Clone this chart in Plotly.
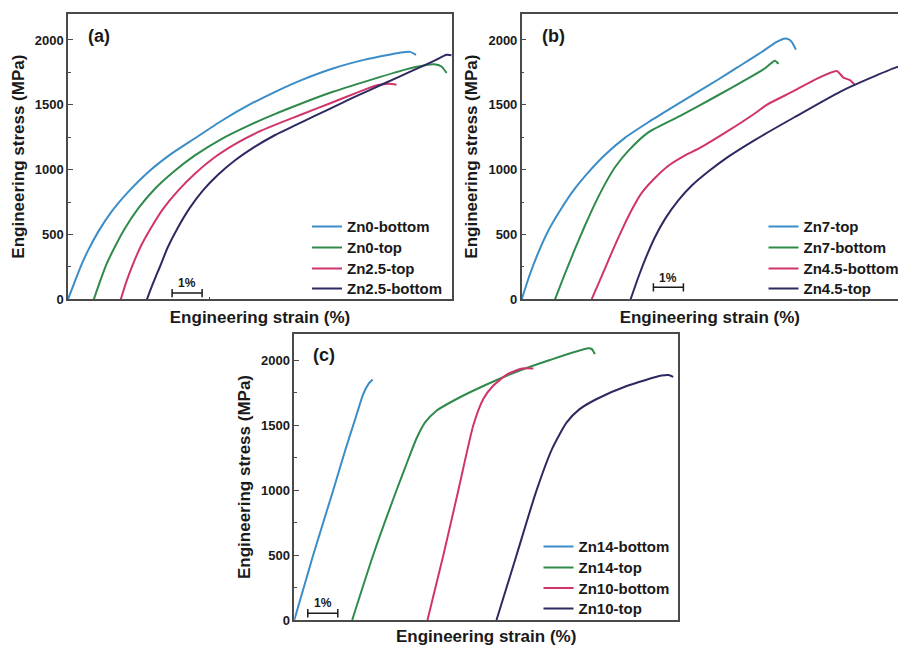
import plotly.graph_objects as go

# ---------------- data (strain %, stress MPa) ----------------
# Panel (a)
a_zn0_bottom_x = [0, 0.22, 0.44, 0.67, 1.0, 1.44, 2.0, 2.67, 3.44, 4.22, 5.11, 6.0, 6.89, 7.78, 8.83, 9.9, 10.7, 11.1, 11.4, 11.6]
a_zn0_bottom_y = [0, 133, 262, 377, 518, 672, 826, 980, 1121, 1240, 1375, 1495, 1598, 1690, 1780, 1848, 1886, 1903, 1908, 1885]
a_zn0_top_x = [0.86, 1.06, 1.28, 1.56, 1.89, 2.33, 2.89, 3.56, 4.22, 5.11, 6.0, 6.89, 7.78, 8.83, 10.2, 11.3, 11.9, 12.2, 12.45, 12.62]
a_zn0_top_y = [0, 133, 269, 403, 544, 697, 851, 992, 1108, 1236, 1338, 1428, 1510, 1600, 1700, 1775, 1805, 1812, 1795, 1745]
a_zn25_top_x = [1.76, 1.94, 2.17, 2.44, 2.78, 3.17, 3.67, 4.22, 4.89, 5.67, 6.44, 7.11, 7.78, 8.72, 9.7, 10.3, 10.7, 10.95]
a_zn25_top_y = [0, 133, 274, 415, 556, 697, 838, 967, 1095, 1210, 1300, 1364, 1425, 1510, 1600, 1650, 1662, 1655]
a_zn25_bottom_x = [2.63, 2.83, 3.06, 3.33, 3.67, 4.06, 4.5, 5.0, 5.56, 6.22, 6.89, 7.78, 8.6, 9.5, 10.5, 11.5, 12.2, 12.62, 12.78]
a_zn25_bottom_y = [0, 121, 249, 403, 556, 705, 840, 960, 1070, 1175, 1265, 1365, 1455, 1555, 1660, 1765, 1838, 1885, 1882]

# Panel (b)
b_zn7_top_x = [0, 0.28, 0.56, 0.89, 1.28, 1.72, 2.22, 2.78, 3.44, 4.22, 4.95, 5.8, 6.55, 7.2, 7.89, 8.5, 8.75, 8.9, 9.0, 9.14]
b_zn7_top_y = [0, 197, 364, 531, 685, 838, 979, 1115, 1245, 1365, 1470, 1590, 1695, 1790, 1890, 1985, 2010, 2005, 1985, 1925]
b_zn7_bottom_x = [1.11, 1.44, 1.78, 2.11, 2.44, 2.78, 3.11, 3.56, 4.22, 5.33, 6.44, 7.56, 8.1, 8.44, 8.56]
b_zn7_bottom_y = [0, 197, 390, 569, 736, 890, 1018, 1146, 1287, 1420, 1560, 1705, 1780, 1840, 1815]
b_zn45_bottom_x = [2.33, 2.67, 3.0, 3.33, 3.67, 4.0, 4.44, 4.89, 5.33, 6.0, 6.89, 7.78, 8.17, 9.06, 9.83, 10.5, 10.72, 10.94, 11.11]
b_zn45_bottom_y = [0, 180, 360, 530, 690, 820, 935, 1030, 1095, 1175, 1300, 1435, 1500, 1605, 1700, 1760, 1710, 1690, 1650]
b_zn45_top_x = [3.63, 3.89, 4.17, 4.44, 4.78, 5.22, 5.67, 6.22, 6.89, 7.78, 9.06, 10.61, 11.61, 12.5, 12.8]
b_zn45_top_y = [0, 172, 338, 479, 620, 762, 877, 985, 1100, 1230, 1400, 1600, 1705, 1790, 1810]

# Panel (c)
c_zn14_bottom_x = [0, 0.63, 1.3, 1.69, 2.05, 2.3, 2.47, 2.61]
c_zn14_bottom_y = [0, 500, 1000, 1300, 1560, 1740, 1815, 1850]
c_zn14_top_x = [1.93, 2.63, 3.41, 3.74, 4.08, 4.36, 4.74, 5.41, 6.3, 7.3, 8.52, 9.8, 9.91, 10.02]
c_zn14_top_y = [0, 500, 1000, 1200, 1400, 1520, 1610, 1700, 1800, 1900, 2000, 2090, 2085, 2045]
c_zn10_bottom_x = [4.44, 4.97, 5.47, 5.97, 6.3, 6.62, 7.1, 7.6, 7.97]
c_zn10_bottom_y = [0, 500, 1000, 1500, 1700, 1800, 1890, 1935, 1935]
c_zn10_top_x = [6.74, 7.41, 8.05, 8.6, 9.08, 9.5, 10.08, 11.08, 12.24, 12.47, 12.63]
c_zn10_top_y = [0, 500, 980, 1320, 1520, 1620, 1700, 1800, 1880, 1885, 1870]

y_tick_vals = [0, 500, 1000, 1500, 2000]
y_tick_text = ["0", "500", "1000", "1500", "2000"]
y_minor_vals = [250, 750, 1250, 1750]

# scale bars: (x_start, x_end, y)
scale_a = (3.47, 4.47, 48)
scale_b = (4.39, 5.39, 92)
scale_c = (0.45, 1.45, 52)

BLUE = "#3b8dc8"
GREEN = "#2f8a4c"
PINK = "#d1346c"
NAVY = "#2c2a60"
AX = "#4a4a4a"
FONT = "Liberation Sans"

W, H = 898, 646
def px(v): return v / W
def py(v): return 1 - v / H

fig = go.Figure()

leg_font = dict(family=FONT, size=15, color="#1a1a1a", weight="bold")
legends = {}
leg_count = [0]

def add(x, y, name, color, xa, ya, lx, ly):
    leg_count[0] += 1
    lid = "legend" if leg_count[0] == 1 else "legend%d" % leg_count[0]
    legends[lid] = dict(x=px(lx), y=py(ly), xanchor="left", yanchor="middle", font=leg_font,
                        bgcolor="rgba(0,0,0,0)", borderwidth=0, itemwidth=30)
    fig.add_trace(go.Scatter(x=x, y=y, name=name, mode="lines",
                             line=dict(color=color, width=2, shape="spline", smoothing=0.6),
                             xaxis=xa, yaxis=ya, legend=lid))

LA_X, LB_X, LC_X = 307, 763.5, 538.5
rows_ab = [226.7, 247.7, 268.7, 288.7]
rows_c = [546.7, 567.7, 588.3, 608.7]

add(a_zn0_bottom_x, a_zn0_bottom_y, "Zn0-bottom", BLUE, "x", "y", LA_X, rows_ab[0])
add(a_zn0_top_x, a_zn0_top_y, "Zn0-top", GREEN, "x", "y", LA_X, rows_ab[1])
add(a_zn25_top_x, a_zn25_top_y, "Zn2.5-top", PINK, "x", "y", LA_X, rows_ab[2])
add(a_zn25_bottom_x, a_zn25_bottom_y, "Zn2.5-bottom", NAVY, "x", "y", LA_X, rows_ab[3])

add(b_zn7_top_x, b_zn7_top_y, "Zn7-top", BLUE, "x2", "y2", LB_X, rows_ab[0])
add(b_zn7_bottom_x, b_zn7_bottom_y, "Zn7-bottom", GREEN, "x2", "y2", LB_X, rows_ab[1])
add(b_zn45_bottom_x, b_zn45_bottom_y, "Zn4.5-bottom", PINK, "x2", "y2", LB_X, rows_ab[2])
add(b_zn45_top_x, b_zn45_top_y, "Zn4.5-top", NAVY, "x2", "y2", LB_X, rows_ab[3])

add(c_zn14_bottom_x, c_zn14_bottom_y, "Zn14-bottom", BLUE, "x3", "y3", LC_X, rows_c[0])
add(c_zn14_top_x, c_zn14_top_y, "Zn14-top", GREEN, "x3", "y3", LC_X, rows_c[1])
add(c_zn10_bottom_x, c_zn10_bottom_y, "Zn10-bottom", PINK, "x3", "y3", LC_X, rows_c[2])
add(c_zn10_top_x, c_zn10_top_y, "Zn10-top", NAVY, "x3", "y3", LC_X, rows_c[3])

title_font = dict(family=FONT, size=17, color="#1a1a1a", weight="bold")
tick_font = dict(family=FONT, size=13, color="#1a1a1a", weight="bold")

def xaxis(domain, rng, tickvals, anchor):
    return dict(domain=domain, range=rng, anchor=anchor, showline=True, linecolor=AX, linewidth=1.5,
                mirror=True, ticks="inside" if tickvals else "", ticklen=3, tickcolor=AX,
                tickvals=tickvals, showticklabels=False, showgrid=False, zeroline=False,
                title=dict(text="Engineering strain (%)", font=title_font, standoff=11))

def yaxis(domain, anchor, mirror):
    return dict(domain=domain, range=[0, 2200], anchor=anchor, showline=True, linecolor=AX,
                linewidth=1.5, mirror=mirror, ticks="inside", ticklen=5, tickcolor=AX,
                tickvals=y_tick_vals, ticktext=y_tick_text, tickfont=tick_font,
                minor=dict(ticks="inside", ticklen=3, tickcolor=AX, tickvals=y_minor_vals),
                showgrid=False, zeroline=False,
                title=dict(text="Engineering stress (MPa)", font=title_font, standoff=6))

ya_dom = [py(299.3), py(14)]
yc_dom = [py(620), py(334)]

fig.update_layout(
    width=W, height=H, margin=dict(l=0, r=0, t=0, b=0, autoexpand=False),
    paper_bgcolor="white", plot_bgcolor="white",
    xaxis=xaxis([px(68), px(452)], [0, 12.8], [4.7], "y"),
    yaxis=yaxis(ya_dom, "x", True),
    xaxis2=xaxis([px(521.7), 1.0], [0, 12.543], [], "y2"),
    yaxis2=yaxis(ya_dom, "x2", False),
    xaxis3=xaxis([px(294.3), px(678)], [0, 12.79], [], "y3"),
    yaxis3=yaxis(yc_dom, "x3", True),
    showlegend=True,
    **legends,
)

# panel labels
for txt, cx, cy in [("(a)", 98.5, 36), ("(b)", 553.3, 36), ("(c)", 323.5, 355)]:
    fig.add_annotation(text=txt, x=px(cx), y=py(cy), xref="paper", yref="paper",
                       showarrow=False, xanchor="center", yanchor="middle",
                       font=dict(family=FONT, size=18, color="#1a1a1a", weight="bold"))

# scale bars
for (x0, x1, yb), xr, yr in [(scale_a, "x", "y"), (scale_b, "x2", "y2"), (scale_c, "x3", "y3")]:
    line = dict(color="#1a1a1a", width=1.5)
    fig.add_shape(type="line", x0=x0, x1=x1, y0=yb, y1=yb, xref=xr, yref=yr, line=line)
    fig.add_shape(type="line", x0=x0, x1=x0, y0=yb - 32, y1=yb + 32, xref=xr, yref=yr, line=line)
    fig.add_shape(type="line", x0=x1, x1=x1, y0=yb - 32, y1=yb + 32, xref=xr, yref=yr, line=line)
    fig.add_annotation(text="1%", x=(x0 + x1) / 2, y=yb + 6, xref=xr, yref=yr, showarrow=False,
                       xanchor="center", yanchor="bottom",
                       font=dict(family=FONT, size=12, color="#1a1a1a", weight="bold"))

fig.write_html("out.html")
